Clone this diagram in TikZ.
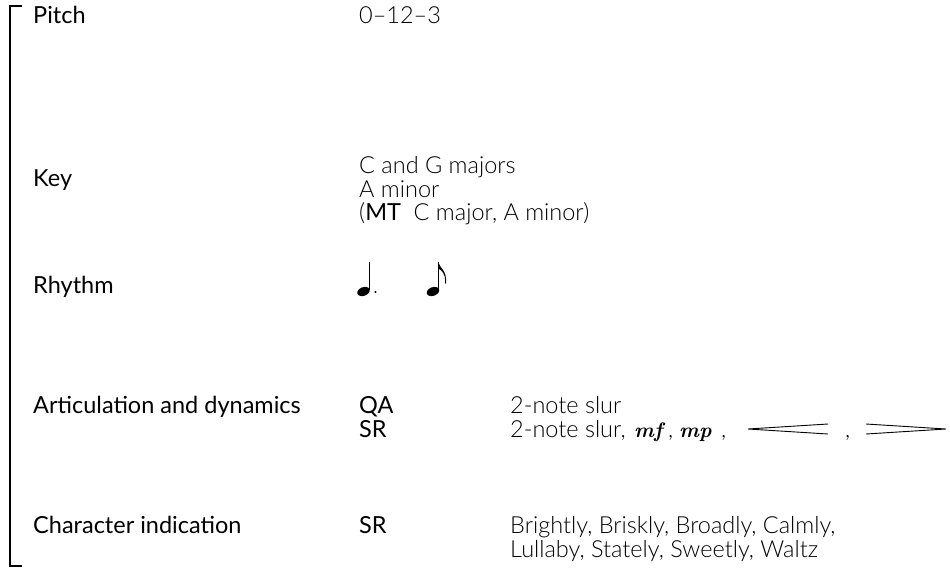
\documentclass[tikz,border=0pt]{standalone}
\usepackage{fontspec}
\setmainfont{Lato}
\newfontfamily\lightfont{Lato Light}
\newfontfamily\dynfont{Latin Modern Roman}
\begin{document}
\begin{tikzpicture}[x=1pt,y=-1pt,
  lab/.style={anchor=base west,inner sep=0pt,font=\fontsize{23.5}{28}\selectfont},
  val/.style={anchor=base west,inner sep=0pt,font=\fontsize{23.5}{28}\selectfont\lightfont},
  dyn/.style={anchor=base west,inner sep=0pt,font=\fontsize{21}{25}\selectfont\dynfont\bfseries\itshape},
  hairpin/.style={line width=0.9pt},
  bracket/.style={line width=2pt}]
\useasboundingbox (0,0) rectangle (950,570);
% bracket
\coordinate (bt) at (22,6);
\coordinate (bb) at (22,566);
\draw[bracket] (bt) -- (10,6) -- (10,566) -- (bb);
% Pitch
\node[lab] (pitch) at (33,23.5) {Pitch};
\node[val] (pitchv) at (359,23.5) {0–12–3};
% Key
\node[lab] (key) at (33,186.5) {Key};
\node[val] (key1) at (359,173.5) {C and G majors};
\node[val] (key2) at (359,197) {A minor};
\node[val] (key3) at (359,220.5) {(\textnormal{MT}\ \ C major, A minor)};
% Rhythm
\node[lab] (rhythm) at (33,293.5) {Rhythm};
% dotted quarter
\fill[rotate around={20:(363.5,291.5)}] (363.5,291.5) ellipse (6.5 and 4.3);
\draw[line width=1.1pt] (369.2,289.5) -- (369.2,262);
\fill (375.5,292) circle (1.2);
% eighth
\fill[rotate around={20:(433,291.5)}] (433,291.5) ellipse (6.5 and 4.3);
\draw[line width=1.1pt] (438.7,289.5) -- (438.7,262);
\fill (438.2,262) .. controls (439.5,268) and (447,270) .. (446,283)
  .. controls (445.8,284) and (445,284) .. (445,283)
  .. controls (446,273) and (441,270) .. (438.2,268.5) -- cycle;
% Articulation
\node[lab] (art) at (33,413.5) {Articulation and dynamics};
\node[lab] (qa) at (359,413.5) {QA};
\node[lab] (sr1) at (359,437.5) {SR};
\node[val] (qav) at (510,413.5) {2-note slur};
\node[val] (srv) at (510,437.5) {2-note slur,};
\node[dyn] (mf) at (634,437.5) {mf};
\node[val] (c1) at (668,437.5) {,};
\node[dyn] (mp) at (679,437.5) {mp};
\node[val] (c2) at (721,437.5) {,};
\node[val] (c3) at (845,437.5) {,};
\coordinate (cr0) at (748,429);
\coordinate (cr1) at (828,424);
\coordinate (cr2) at (828,434);
\draw[hairpin] (cr1) -- (cr0) -- (cr2);
\coordinate (dc0) at (946,429);
\coordinate (dc1) at (866,424);
\coordinate (dc2) at (866,434);
\draw[hairpin] (dc1) -- (dc0) -- (dc2);
% Character
\node[lab] (char) at (33,533.5) {Character indication};
\node[lab] (sr2) at (359,533.5) {SR};
\node[val] (ch1) at (510,533.5) {Brightly, Briskly, Broadly, Calmly,};
\node[val] (ch2) at (510,557.5) {Lullaby, Stately, Sweetly, Waltz};
\end{tikzpicture}
\end{document}
